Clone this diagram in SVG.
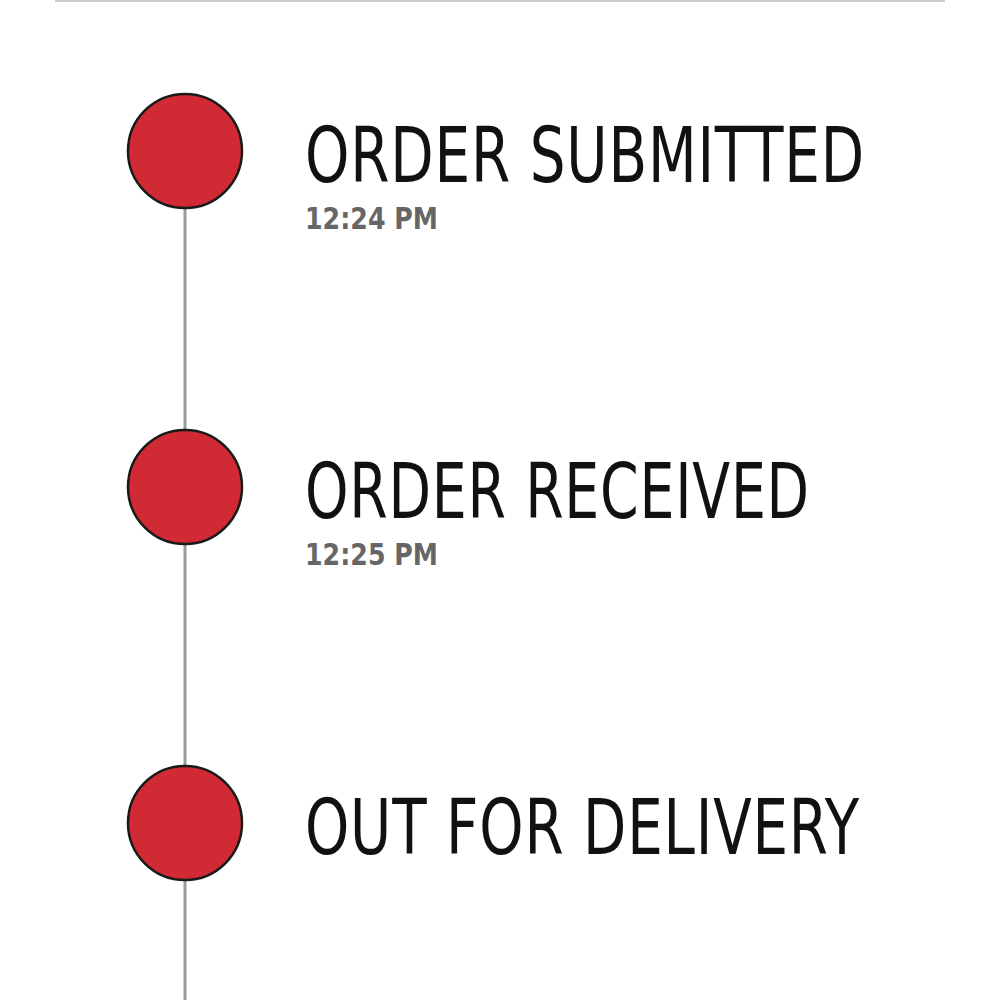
<svg xmlns="http://www.w3.org/2000/svg" width="1000" height="1000" viewBox="0 0 1000 1000">
<style>
.dot{fill:#d12a35;stroke:#1a1a1a;stroke-width:2.5}
.title{font-family:"DejaVu Sans Condensed","DejaVu Sans",sans-serif;font-size:76px;fill:#111;letter-spacing:1px}
.time{font-family:"DejaVu Sans Condensed","DejaVu Sans",sans-serif;font-weight:bold;font-size:30px;fill:#666}
</style>
<rect width="1000" height="1000" fill="#fff"/>
<line x1="55" y1="1" x2="945" y2="1" stroke="#ccc" stroke-width="2"/>
<g id="connectors" stroke="#999" stroke-width="3">
<line x1="185" y1="208" x2="185" y2="430"/>
<line x1="185" y1="544" x2="185" y2="766"/>
<line x1="185" y1="880" x2="185" y2="1000"/>
</g>
<g id="n1"><circle class="dot" cx="185" cy="151" r="57"/>
<text class="title" x="305" y="182" textLength="560" lengthAdjust="spacingAndGlyphs">ORDER SUBMITTED</text>
<text class="time" x="305" y="229" textLength="133" lengthAdjust="spacingAndGlyphs">12:24 PM</text></g>
<g id="n2"><circle class="dot" cx="185" cy="487" r="57"/>
<text class="title" x="305" y="518" textLength="505" lengthAdjust="spacingAndGlyphs">ORDER RECEIVED</text>
<text class="time" x="305" y="565" textLength="133" lengthAdjust="spacingAndGlyphs">12:25 PM</text></g>
<g id="n3"><circle class="dot" cx="185" cy="823" r="57"/>
<text class="title" x="305" y="854" textLength="555" lengthAdjust="spacingAndGlyphs">OUT FOR DELIVERY</text></g>
</svg>
